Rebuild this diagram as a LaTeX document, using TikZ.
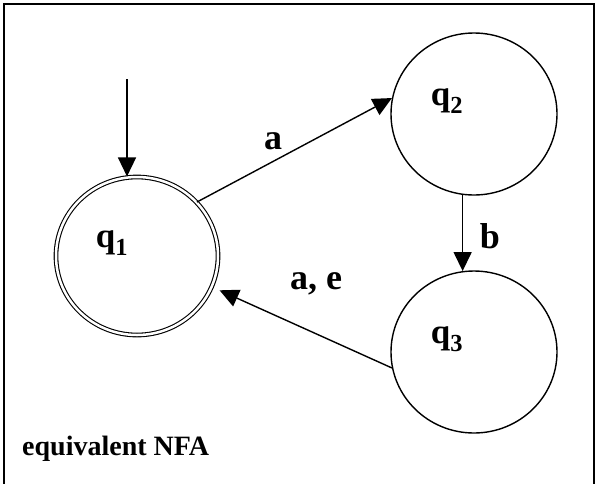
\documentclass[tikz,border=0pt]{standalone}
\usepackage{fontspec}
\setmainfont{Liberation Serif}
\usetikzlibrary{arrows.meta,shapes.geometric}
\begin{document}
\begin{tikzpicture}[x=1pt,y=-1pt,
  state/.style={draw,ellipse,line width=1.4pt,minimum width=166pt,minimum height=162pt,inner sep=0pt},
  accept/.style={state,double,double distance=2.5pt,line width=1.1pt,minimum width=162pt,minimum height=158pt},
  lab/.style={font=\fontsize{35}{38}\selectfont\bfseries,inner sep=0pt},
  elab/.style={font=\fontsize{36}{40}\selectfont\bfseries,inner sep=0pt},
  trans/.style={line width=1.4pt,-{Triangle[length=19pt,width=18pt]}}]
\useasboundingbox (0,0) rectangle (597,483);
\draw[line width=2.2pt] (4,4) rectangle (594,500);
\node[accept] (q1) at (137,256) {};
\node[state] (q2) at (474,114) {};
\node[state] (q3) at (474,352) {};
\node[lab] (l1) at (112,243) {q\textsubscript{1}};
\node[lab] (l2) at (447,101) {q\textsubscript{2}};
\node[lab] (l3) at (447,339) {q\textsubscript{3}};
\coordinate (s) at (127,79);
\draw[trans] (s) -- (s |- q1.north);
\draw[trans] (q1.42) -- (q2.169);
\draw[trans] (q2.-98) -- (q3.98);
\draw[trans] (q3.191) -- ([shift={(9pt,0)}]q1.-25);
\node[elab] (la) at (273,141) {a};
\node[elab] (lb) at (490,236) {b};
\node[elab] (lae) at (316,284) {a, e};
\node[font=\fontsize{28}{32}\selectfont\bfseries,inner sep=0pt,anchor=base west] (t) at (22,455) {equivalent NFA};
\end{tikzpicture}
\end{document}
